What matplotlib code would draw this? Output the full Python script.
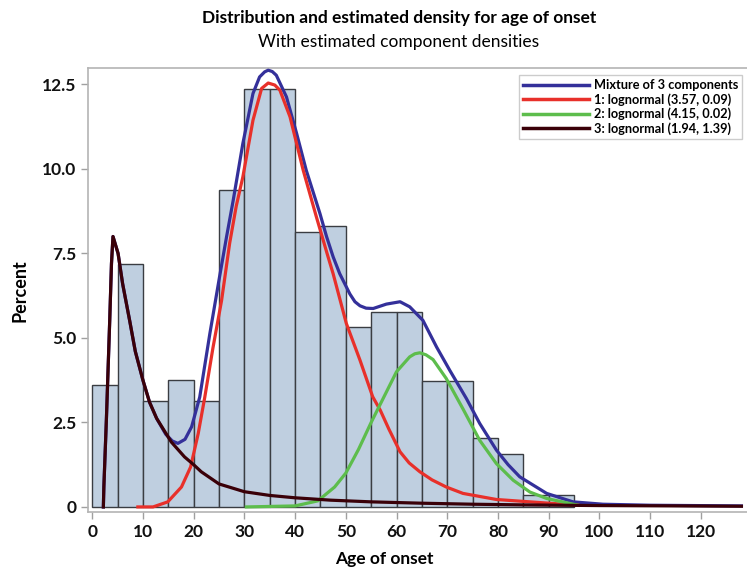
import matplotlib

matplotlib.use("Agg")
import matplotlib.pyplot as plt
from matplotlib.lines import Line2D

plt.rcParams["font.family"] = ["Lato", "DejaVu Sans"]

# Histogram: 5-year bins, percent of cases
bin_left = [0, 5, 10, 15, 20, 25, 30, 35, 40, 45, 50, 55, 60, 65, 70, 75, 80, 85, 90]
bin_pct = [3.62, 7.20, 3.14, 3.75, 3.14, 9.39, 12.37, 12.37, 8.12, 8.31,
           5.31, 5.77, 5.77, 3.74, 3.74, 2.04, 1.58, 0.34, 0.34]

# Mixture density
mix_age = [2.2, 2.3, 2.8, 3.45, 3.8, 4.1, 5.1, 6.0, 7.4, 8.5, 10, 11.3, 12.7, 14.5,
           15.8, 16.9, 18.3, 19.6, 21.2, 23.2, 25.1, 26.5, 27.8, 29.7, 31.7, 33,
           34.0, 34.7, 35.5, 36.3, 38.3, 40.3, 42.2, 44.9, 46.2, 47.5, 48.8, 49.8,
           50.8, 51.8, 52.8, 54, 55.4, 58, 60.7, 62.6, 65.2, 67.9, 70.5, 73.8,
           76.4, 79.7, 82, 84.3, 89.6, 94.8, 100.7, 110, 128]
mix_pct = [0.0, 0.6, 2.6, 5.5, 7.2, 8.0, 7.5, 6.6, 5.5, 4.6, 3.75, 3.1, 2.62, 2.15,
           1.95, 1.88, 2.0, 2.37, 3.25, 5.13, 6.8, 8.0, 9.07, 10.75, 12.23, 12.72,
           12.87, 12.92, 12.88, 12.77, 12.13, 11.05, 9.96, 8.68, 8.0, 7.4, 6.9, 6.6,
           6.3, 6.07, 5.95, 5.88, 5.87, 6.0, 6.07, 5.92, 5.52, 4.73, 4.04, 3.2,
           2.47, 1.68, 1.25, 0.89, 0.4, 0.15, 0.08, 0.05, 0.03]

# Component 1: lognormal (3.57, 0.09)
c1_age = [9, 12, 14.9, 17.6, 19.4, 20.9, 22.2, 23.8, 25.5, 27.1, 28.4, 29.7, 31.7,
          33.4, 34.7, 36, 37, 39, 41.6, 44.2, 46.5, 47.5, 50.1, 52.8, 55.3, 56.8, 58.5,
          60.7, 62.5, 64.6, 67, 69.8, 73.1, 79.7, 86.3, 95.8]
c1_pct = [0.0, 0.0, 0.15, 0.59, 1.18, 2.17, 3.25, 4.7, 6.1, 7.8, 8.9, 9.76, 11.44,
          12.38, 12.54, 12.48, 12.33, 11.54, 9.96, 8.58, 7.4, 6.9, 5.43, 4.34, 3.26,
          2.86, 2.3, 1.63, 1.3, 1.04, 0.8, 0.59, 0.40, 0.22, 0.15, 0.05]

# Component 2: lognormal (4.15, 0.02)
c2_age = [30.4, 40, 44.5, 47.8, 50, 52.5, 55, 57, 60, 62.6, 63.6, 64.6, 65.8, 67.2,
          69.8, 73.1, 76.4, 79.7, 83, 86.3, 89.6, 95.8]
c2_pct = [0.0, 0.03, 0.18, 0.59, 1.0, 1.7, 2.5, 3.1, 4.0, 4.44, 4.53, 4.56, 4.5,
          4.36, 3.8, 2.9, 1.97, 1.28, 0.79, 0.44, 0.25, 0.05]

# Component 3: lognormal (1.94, 1.39)
c3_age = [2.2, 2.3, 2.8, 3.45, 3.8, 4.1, 5.1, 6.0, 7.4, 8.5, 10, 11.3, 12.7, 15.6,
          18.2, 20, 21.5, 25, 30, 35, 40, 47, 55, 65, 75, 85, 100, 115, 128]
c3_pct = [0.0, 0.6, 2.6, 5.5, 7.2, 8.0, 7.5, 6.6, 5.5, 4.6, 3.75, 3.1, 2.62, 1.92,
          1.48, 1.25, 1.04, 0.68, 0.45, 0.34, 0.27, 0.2, 0.15, 0.11, 0.08, 0.06,
          0.04, 0.03, 0.02]

labels = ["Mixture of 3 components", "1: lognormal (3.57, 0.09)",
          "2: lognormal (4.15, 0.02)", "3: lognormal (1.94, 1.39)"]
colors = ["#34309a", "#e8302a", "#5dbd4c", "#3a0008"]

fig = plt.figure(figsize=(7.47, 5.68), dpi=100)
ax = fig.add_axes([0.118, 0.098, 0.882, 0.782])

ax.bar(bin_left, bin_pct, width=5, align="edge", color="#bfcfe0",
       edgecolor="#3a3d42", linewidth=1.0, zorder=2)

lw = 2.3
ax.plot(mix_age, mix_pct, color=colors[0], lw=lw, solid_joinstyle="round", zorder=3)
ax.plot(c1_age, c1_pct, color=colors[1], lw=lw, solid_joinstyle="round", zorder=4)
ax.plot(c2_age, c2_pct, color=colors[2], lw=lw, solid_joinstyle="round", zorder=5)
ax.plot(c3_age, c3_pct, color=colors[3], lw=lw, solid_joinstyle="round", zorder=6)

ax.set_xlim(-0.8, 129.1)
ax.set_ylim(-0.16, 12.98)
ax.set_xticks(range(0, 130, 10))
ax.set_yticks([0, 2.5, 5.0, 7.5, 10.0, 12.5])
ax.set_yticklabels(["0", "2.5", "5.0", "7.5", "10.0", "12.5"])
ax.tick_params(axis="both", colors="#a0a0a0", labelcolor="#111111", labelsize=12.5,
               length=5, width=1)
for lab in ax.get_xticklabels() + ax.get_yticklabels():
    lab.set_fontweight("bold")

for side in ["left", "bottom", "top"]:
    ax.spines[side].set_color("#b4b4b4")
    ax.spines[side].set_linewidth(1.2)
ax.spines["right"].set_visible(False)

ax.set_ylabel("Percent", fontsize=13, fontweight="bold", labelpad=10)
fig.text(0.514, 0.016, "Age of onset", ha="center", va="center",
         fontsize=12.5, fontweight="bold")

fig.text(0.534, 0.968, "Distribution and estimated density for age of onset",
         ha="center", va="center", fontsize=12.5, fontweight="bold")
fig.text(0.534, 0.926, "With estimated component densities",
         ha="center", va="center", fontsize=12.5)

handles = [Line2D([0], [0], color=c, lw=2.5) for c in colors]
leg = ax.legend(handles, labels, loc="upper right", bbox_to_anchor=(0.997, 0.99),
                prop={"weight": "bold", "size": 9.2}, frameon=True,
                fancybox=False, handlelength=5.2, handletextpad=0.4,
                labelspacing=0.15, borderpad=0.3, borderaxespad=0.2)
leg.get_frame().set_edgecolor("#c0c0c0")
leg.get_frame().set_linewidth(1)

plt.savefig("out.png", dpi=100)
plt.close()
